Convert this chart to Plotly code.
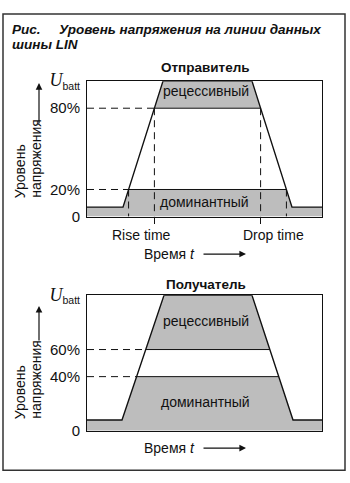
import numpy as np
import plotly.graph_objects as go

# ---------------- data ----------------
# Sender (Отправитель): bus level in % of U_batt over time (arbitrary units)
sender_t = [0, 36, 76, 165, 205, 235]
sender_u = [7, 7, 100, 100, 7, 7]
sender_low, sender_high = 20, 80          # dominant / recessive thresholds, %
sender_tickvals = [0, 20, 80, 100]
UBATT = '<span style="font-size:18px;font-family:Liberation Serif"><i>U</i></span><sub>batt</sub>'
sender_ticktext = ["0", "20%", "80%", UBATT]

# Receiver (Получатель)
receiver_t = [0, 35, 77, 165, 206, 235]
receiver_u = [8, 8, 100, 100, 8, 8]
receiver_low, receiver_high = 40, 60
receiver_tickvals = [0, 40, 60, 100]
receiver_ticktext = ["0", "40%", "60%", UBATT]

T_MAX = 235

# ---------------- styling ----------------
W, H = 350, 483
FONT = "Liberation Sans, Arial, sans-serif"
GREY = "#bdbdbd"
BLACK = "#111111"
DASH = "7px,5px"


def px(x):
    return x / W


def py(y):
    return 1 - y / H


def crossings(t, u, level):
    out = []
    for i in range(len(t) - 1):
        if (u[i] - level) * (u[i + 1] - level) < 0:
            out.append(t[i] + (level - u[i]) * (t[i + 1] - t[i]) / (u[i + 1] - u[i]))
    return out


def with_crossings(t, u, level):
    tt, uu = [], []
    for i in range(len(t)):
        tt.append(t[i]); uu.append(u[i])
        if i < len(t) - 1 and (u[i] - level) * (u[i + 1] - level) < 0:
            tt.append(t[i] + (level - u[i]) * (t[i + 1] - t[i]) / (u[i + 1] - u[i]))
            uu.append(level)
    return np.array(tt), np.array(uu)


fig = go.Figure()
annotations = []


def add_panel(t, u, low, high, xa, ya, show_vlines):
    # dominant area: below min(signal, low)
    tt, uu = with_crossings(t, u, low)
    dom = np.minimum(uu, low)
    fig.add_trace(go.Scatter(x=[t[0]] + list(tt) + [t[-1]], y=[0] + list(dom) + [0],
                             fill="toself", fillcolor=GREY, line=dict(width=0),
                             mode="lines", xaxis=xa, yaxis=ya, hoverinfo="skip"))
    # recessive area: between high and max(signal, high)
    tt2, uu2 = with_crossings(t, u, high)
    rec = np.maximum(uu2, high)
    fig.add_trace(go.Scatter(x=list(tt2) + list(tt2[::-1]), y=list(rec) + [high] * len(tt2),
                             fill="toself", fillcolor=GREY, line=dict(width=0),
                             mode="lines", xaxis=xa, yaxis=ya, hoverinfo="skip"))
    for level in (low, high):
        c = crossings(t, u, level)
        fig.add_trace(go.Scatter(x=[t[0], c[0]], y=[level, level], mode="lines",
                                 line=dict(color=BLACK, width=1, dash=DASH),
                                 xaxis=xa, yaxis=ya, hoverinfo="skip"))
        fig.add_trace(go.Scatter(x=[c[0], c[-1]], y=[level, level], mode="lines",
                                 line=dict(color=BLACK, width=1),
                                 xaxis=xa, yaxis=ya, hoverinfo="skip"))
        if show_vlines:
            for cx in c:
                fig.add_trace(go.Scatter(x=[cx, cx], y=[level, 0], mode="lines",
                                         line=dict(color=BLACK, width=1, dash=DASH),
                                         xaxis=xa, yaxis=ya, hoverinfo="skip"))
    fig.add_trace(go.Scatter(x=t, y=u, mode="lines", line=dict(color=BLACK, width=1.4),
                             xaxis=xa, yaxis=ya, hoverinfo="skip"))


add_panel(sender_t, sender_u, sender_low, sender_high, "x", "y", True)
add_panel(receiver_t, receiver_u, receiver_low, receiver_high, "x2", "y2", False)

s_rise = [crossings(sender_t, sender_u, lv)[0] for lv in (sender_low, sender_high)]
s_drop = [crossings(sender_t, sender_u, lv)[1] for lv in (sender_low, sender_high)]

axis_common = dict(showline=True, mirror=True, linecolor=BLACK, linewidth=1,
                   showgrid=False, zeroline=False, fixedrange=True)
tickfont = dict(family=FONT, size=15, color=BLACK)

fig.update_layout(
    width=W, height=H, margin=dict(l=0, r=0, t=0, b=0),
    paper_bgcolor="white", plot_bgcolor="white", showlegend=False,
    xaxis=dict(domain=[px(87), px(322)], range=[0, T_MAX], anchor="y",
               tickvals=[s_rise[1], s_drop[1]], ticktext=["", ""], ticks="outside",
               ticklen=6, tickcolor=BLACK, tickwidth=1, **axis_common),
    yaxis=dict(domain=[py(214), py(73)], range=[0, 100], anchor="x",
               tickvals=sender_tickvals, ticktext=sender_ticktext, ticks="",
               ticklabelstandoff=3, tickfont=tickfont, **axis_common),
    xaxis2=dict(domain=[px(87), px(322)], range=[0, T_MAX], anchor="y2",
                showticklabels=False, ticks="", **axis_common),
    yaxis2=dict(domain=[py(437), py(296)], range=[0, 100], anchor="x2",
                tickvals=receiver_tickvals, ticktext=receiver_ticktext, ticks="",
                ticklabelstandoff=3, tickfont=tickfont, **axis_common),
)

txt = dict(family=FONT, size=14, color=BLACK)


def ann(text, x, y, xref="paper", yref="paper", font=None, **kw):
    d = dict(text=text, x=x, y=y, xref=xref, yref=yref, showarrow=False,
             font=font or txt)
    d.update(kw)
    annotations.append(d)


# figure caption
cap = dict(family=FONT, size=13.5, color=BLACK)
ann("<b><i>Рис.</i></b>", px(10), py(19), xanchor="left", yanchor="middle", font=cap)
ann("<b><i>Уровень напряжения на линии данных</i></b>", px(57), py(19),
    xanchor="left", yanchor="middle", font=cap)
ann("<b><i>шины LIN</i></b>", px(10), py(35), xanchor="left", yanchor="middle", font=cap)

# panel titles
ttl = dict(family=FONT, size=13.5, color=BLACK)
ann("<b>Отправитель</b>", px(206), py(59), font=ttl, yanchor="middle")
ann("<b>Получатель</b>", px(206), py(285), font=ttl, yanchor="middle")

# band labels
ann("рецессивный", 119, 93, "x", "y", yanchor="middle")
ann("доминантный", 117, 11, "x", "y", yanchor="middle")
ann("рецессивный", 119, 81, "x2", "y2", yanchor="middle")
ann("доминантный", 118, 21, "x2", "y2", yanchor="middle")

# rise / drop time labels
ann("Rise time", float(np.mean(s_rise)), 0, "x", "y", yanchor="top", yshift=-8)
ann("Drop time", float(np.mean(s_drop)), 0, "x", "y", yanchor="top", yshift=-8)

# time axis titles with arrows
for yc in (253, 455):
    ann("Время <i>t</i>", px(197), py(yc), xanchor="right", yanchor="middle")
    annotations.append(dict(text="", x=px(246), y=py(yc), xref="paper", yref="paper",
                            showarrow=True, ax=-44, ay=0, arrowhead=2, arrowsize=1.1,
                            arrowwidth=1.2, arrowcolor=BLACK))

# y axis titles (rotated) with arrows
for bottom, arrow_top, arrow_len in ((197, 75, 42), (427, 307, 36)):
    ann("Уровень", px(20), py(bottom), textangle=-90, yanchor="bottom", xanchor="center")
    ann("напряжения", px(36), py(bottom), textangle=-90, yanchor="bottom", xanchor="center")
    annotations.append(dict(text="", x=px(39), y=py(arrow_top), xref="paper", yref="paper",
                            showarrow=True, ax=0, ay=arrow_len, arrowhead=2, arrowsize=1.1,
                            arrowwidth=1.2, arrowcolor=BLACK))

fig.update_layout(annotations=annotations)

# outer frame
fig.add_shape(type="rect", xref="paper", yref="paper", x0=px(3), x1=px(345),
              y0=py(478), y1=py(3), line=dict(color="#333333", width=1.5))

fig.write_html("out.html",
               post_script="document.body.style.margin='0';document.body.style.overflow='hidden';")
